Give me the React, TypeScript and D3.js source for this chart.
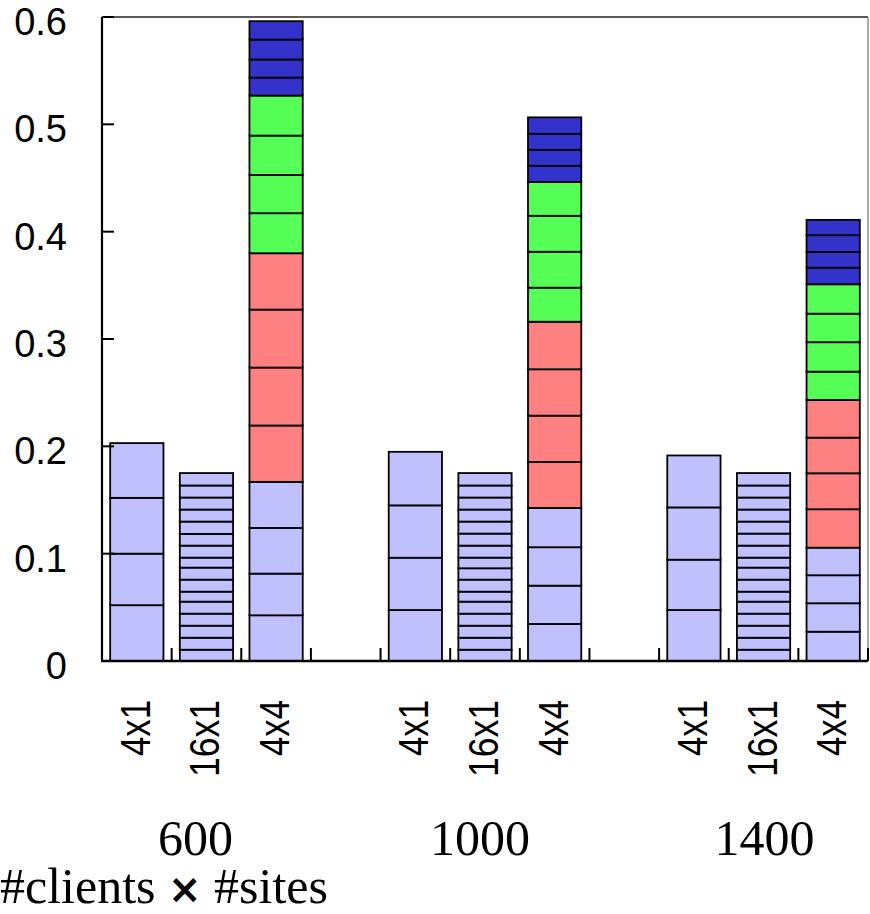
import React from "react";
import * as d3 from "d3";

// #clients groups and client x site configurations
const groups = ["600", "1000", "1400"];
const configs = ["4x1", "16x1", "4x4"];
const yTicks = [0, 0.1, 0.2, 0.3, 0.4, 0.5, 0.6];

// segment heights, bottom to top
const seg4x1 = [
  [0.052, 0.048, 0.052, 0.051],
  [0.0475, 0.0487, 0.0488, 0.0499],
  [0.0475, 0.0469, 0.0487, 0.0484],
];
const seg16x1 = [
  [0.0105, 0.0112, 0.0112, 0.0112, 0.0112, 0.0093, 0.0112, 0.0112, 0.0093, 0.0112, 0.0109, 0.0115, 0.0112, 0.0112, 0.0112, 0.0116],
  [0.0105, 0.0112, 0.0112, 0.0112, 0.0112, 0.0093, 0.0112, 0.0106, 0.0099, 0.0112, 0.0112, 0.0112, 0.0112, 0.0112, 0.0112, 0.0116],
  [0.0105, 0.0112, 0.0112, 0.0112, 0.0112, 0.0093, 0.0112, 0.0112, 0.0093, 0.0112, 0.0112, 0.0112, 0.0112, 0.0112, 0.0112, 0.0116],
];
const seg4x4Lavender = [
  [0.0426, 0.0388, 0.0426, 0.0429],
  [0.0345, 0.0357, 0.0358, 0.0366],
  [0.0273, 0.0265, 0.0261, 0.0257],
];
const seg4x4Red = [
  [0.0525, 0.054, 0.054, 0.0525],
  [0.0429, 0.0431, 0.0432, 0.0443],
  [0.0358, 0.0335, 0.0332, 0.0351],
];
const seg4x4Green = [
  [0.0373, 0.0357, 0.0366, 0.0373],
  [0.0317, 0.0335, 0.0335, 0.0314],
  [0.0264, 0.0274, 0.0266, 0.0274],
];
const seg4x4Blue = [
  [0.0168, 0.0168, 0.0186, 0.0171],
  [0.0152, 0.0149, 0.0149, 0.0153],
  [0.0155, 0.0146, 0.0156, 0.0143],
];

const LAVENDER = "#c0c0ff";
const RED = "#ff8080";
const GREEN = "#55ff55";
const BLUE = "#3333cc";

const W = 870;
const H = 914;
const plot = { left: 102, right: 868, top: 17, bottom: 661 };

type Seg = { y0: number; y1: number; fill: string };

function stackSegments(parts: { values: number[]; fill: string }[]): Seg[] {
  const out: Seg[] = [];
  let base = 0;
  parts.forEach((p) => {
    p.values.forEach((v) => {
      out.push({ y0: base, y1: base + v, fill: p.fill });
      base += v;
    });
  });
  return out;
}

export default function App() {
  // slots: 3 bars per group with an empty slot between groups
  const slots: string[] = [];
  groups.forEach((g, gi) => {
    configs.forEach((c) => slots.push(`${g}|${c}`));
    if (gi < groups.length - 1) slots.push(`gap${gi}`);
  });

  const x = d3.scaleBand<string>().domain(slots).range([plot.left, plot.right]).padding(0);
  const y = d3.scaleLinear().domain([0, 0.6]).range([plot.bottom, plot.top]);
  const bw = x.bandwidth() * 0.765;

  const bars = groups.flatMap((g, gi) =>
    configs.map((c) => {
      let parts;
      if (c === "4x1") parts = [{ values: seg4x1[gi], fill: LAVENDER }];
      else if (c === "16x1") parts = [{ values: seg16x1[gi], fill: LAVENDER }];
      else
        parts = [
          { values: seg4x4Lavender[gi], fill: LAVENDER },
          { values: seg4x4Red[gi], fill: RED },
          { values: seg4x4Green[gi], fill: GREEN },
          { values: seg4x4Blue[gi], fill: BLUE },
        ];
      const key = `${g}|${c}`;
      const cx = (x(key) as number) + x.bandwidth() / 2;
      return { key, cx, config: c, segs: stackSegments(parts) };
    })
  );

  const boundaries = slots.map((s) => x(s) as number).concat([plot.right]);

  const groupCenter = (gi: number) => {
    const a = x(`${groups[gi]}|${configs[0]}`) as number;
    const b = (x(`${groups[gi]}|${configs[configs.length - 1]}`) as number) + x.bandwidth();
    return (a + b) / 2;
  };

  return (
    <svg
      width={W}
      height={H}
      style={{ position: "absolute", left: 0, top: 0, background: "#fff" }}
    >
      {/* bars */}
      {bars.map((b) => (
        <g key={b.key}>
          {b.segs.map((s, i) => (
            <rect
              key={i}
              x={b.cx - bw / 2}
              y={y(s.y1)}
              width={bw}
              height={y(s.y0) - y(s.y1)}
              fill={s.fill}
              stroke="#000"
              strokeWidth={1.8}
            />
          ))}
        </g>
      ))}

      {/* frame */}
      <line x1={plot.left} x2={plot.right} y1={plot.top} y2={plot.top} stroke="#222" strokeWidth={1.4} />
      <line x1={plot.right} x2={plot.right} y1={plot.top} y2={plot.bottom} stroke="#888" strokeWidth={1.4} />
      <line x1={plot.left} x2={plot.left} y1={plot.top} y2={plot.bottom} stroke="#000" strokeWidth={2.2} />
      <line x1={plot.left - 1} x2={plot.right} y1={plot.bottom} y2={plot.bottom} stroke="#000" strokeWidth={2.4} />

      {/* y ticks and labels */}
      {yTicks.map((t) => (
        <g key={t}>
          <line x1={plot.left} x2={plot.left + 12} y1={y(t)} y2={y(t)} stroke="#000" strokeWidth={2} />
          <text
            x={67}
            y={y(t) + 18}
            textAnchor="end"
            fontFamily="'Liberation Sans', Arial, sans-serif"
            fontSize={38}
            fill="#000"
          >
            {String(t)}
          </text>
        </g>
      ))}

      {/* x ticks at slot boundaries */}
      {boundaries.map((bx, i) => (
        <line key={i} x1={bx} x2={bx} y1={plot.bottom} y2={plot.bottom - 13} stroke="#000" strokeWidth={2} />
      ))}

      {/* config labels */}
      {bars.map((b) => (
        <text
          key={b.key + "lbl"}
          transform={`translate(${b.cx + 13},${700}) rotate(-90)`}
          textAnchor="end"
          fontFamily="'Liberation Sans', Arial, sans-serif"
          fontSize={42}
          textLength={b.config === "16x1" ? 77 : 56}
          lengthAdjust="spacingAndGlyphs"
          fill="#000"
        >
          {b.config}
        </text>
      ))}

      {/* group labels */}
      {groups.map((g, gi) => (
        <text
          key={g}
          x={groupCenter(gi) + (gi - 1) * 6 - 5}
          y={855}
          textAnchor="middle"
          fontFamily="'Liberation Serif', 'Times New Roman', serif"
          fontSize={50}
          fill="#000"
        >
          {g}
        </text>
      ))}

      {/* axis title */}
      <text
        x={0}
        y={903}
        fontFamily="'Liberation Serif', 'Times New Roman', serif"
        fontSize={50}
        fill="#000"
      >
        #clients <tspan fontWeight="bold" fontFamily="'DejaVu Sans', sans-serif" fontSize={40}>×</tspan> #sites
      </text>
    </svg>
  );
}
